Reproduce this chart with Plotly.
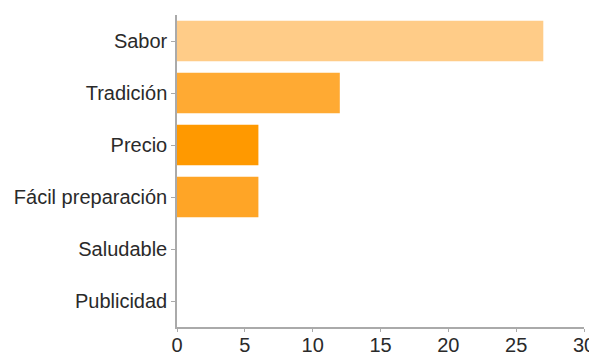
import plotly.graph_objects as go

categories = ["Sabor", "Tradición", "Precio", "Fácil preparación", "Saludable", "Publicidad"]
values = [27, 12, 6, 6, 0, 0]
colors = ["#FFCC88", "#FFAA33", "#FF9900", "#FFA526", "#FFA526", "#FFA526"]
x_ticks = [0, 5, 10, 15, 20, 25, 30]

fig = go.Figure(go.Bar(
    y=categories, x=values, orientation="h",
    marker=dict(color=colors, line=dict(width=0)),
    width=0.78,
))
fig.update_layout(
    width=597, height=354,
    margin=dict(l=169, r=21, t=7, b=35, autoexpand=False),
    paper_bgcolor="white", plot_bgcolor="white",
    font=dict(family="Liberation Sans, Arial, sans-serif", size=20, color="#2a2a2a"),
    showlegend=False,
)
fig.update_xaxes(
    range=[0, 30], tickvals=x_ticks, showgrid=False, zeroline=False,
    showline=True, linecolor="#aaaaaa", linewidth=1.5,
    ticks="outside", ticklen=3, tickcolor="#aaaaaa", automargin=False,
    ticklabelstandoff=-4,
)
fig.update_yaxes(
    autorange="reversed", showgrid=False, zeroline=False,
    showline=True, linecolor="#aaaaaa", linewidth=1.5,
    ticks="outside", ticklen=4, tickcolor="#aaaaaa", automargin=False,
)
fig.write_html("out.html")
